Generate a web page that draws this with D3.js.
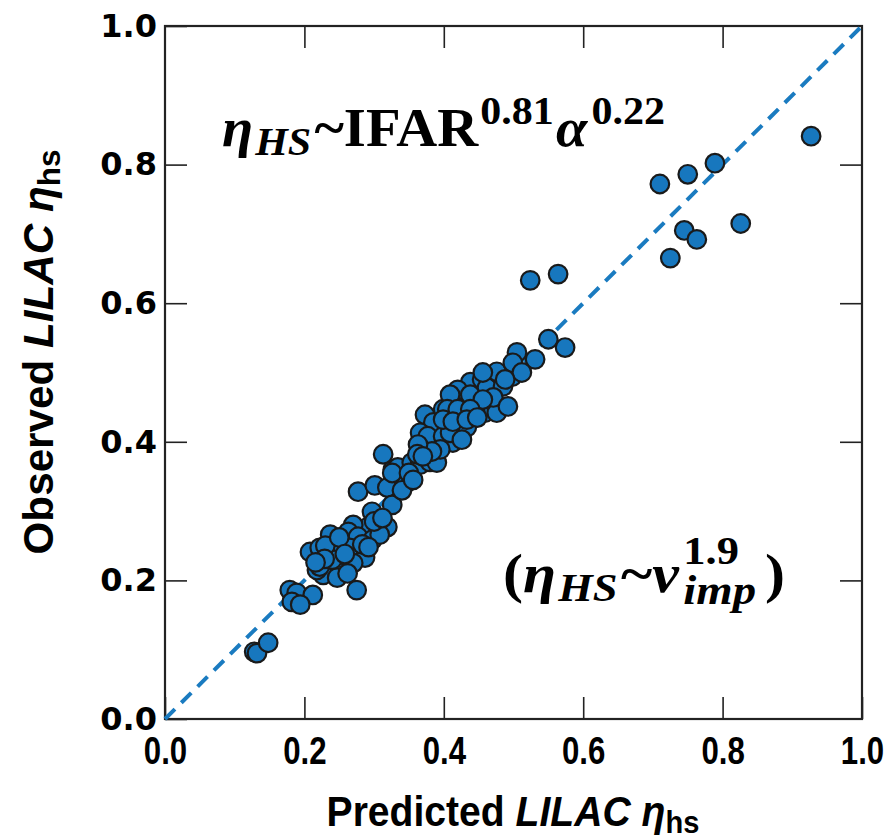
<!DOCTYPE html>
<html>
<head>
<meta charset="utf-8">
<script src="https://cdn.jsdelivr.net/npm/d3@7"></script>
<style>
  html, body { margin: 0; padding: 0; background: #fff; }
</style>
</head>
<body>
<svg id="chart" width="892" height="839"></svg>
<script>
// predicted vs observed LILAC eta_hs
const predicted = [
  0.927, 0.710, 0.750, 0.789, 0.826, 0.745, 0.763, 0.725, 0.524, 0.564,
  0.574, 0.550, 0.531, 0.505, 0.128, 0.132, 0.148, 0.275, 0.179, 0.189,
  0.212, 0.182, 0.194, 0.277, 0.301, 0.319, 0.327, 0.326, 0.297, 0.291,
  0.270, 0.263, 0.277, 0.298, 0.319, 0.308, 0.237, 0.208, 0.222, 0.237,
  0.251, 0.265, 0.277, 0.287, 0.255, 0.244, 0.227, 0.218, 0.247, 0.222,
  0.270, 0.240, 0.313, 0.334, 0.347, 0.326, 0.354, 0.366, 0.380, 0.390,
  0.373, 0.385, 0.366, 0.377, 0.399, 0.409, 0.399, 0.413, 0.395, 0.383,
  0.363, 0.362, 0.370, 0.420, 0.433, 0.419, 0.428, 0.438, 0.442, 0.455,
  0.462, 0.466, 0.459, 0.445, 0.435, 0.476, 0.476, 0.485, 0.471, 0.492,
  0.498, 0.499, 0.512, 0.409, 0.426, 0.456, 0.488, 0.420, 0.438, 0.409,
  0.456, 0.405, 0.420, 0.438, 0.399, 0.413, 0.433, 0.448, 0.340, 0.350,
  0.356, 0.230, 0.250, 0.258, 0.283, 0.292, 0.300, 0.312, 0.229, 0.216,
  0.262
];
const observed = [
  0.841, 0.772, 0.786, 0.802, 0.715, 0.705, 0.692, 0.665, 0.633, 0.642,
  0.536, 0.548, 0.519, 0.529, 0.097, 0.095, 0.110, 0.186, 0.186, 0.182,
  0.179, 0.169, 0.165, 0.328, 0.337, 0.334, 0.360, 0.309, 0.299, 0.277,
  0.280, 0.270, 0.263, 0.259, 0.277, 0.266, 0.266, 0.241, 0.247, 0.237,
  0.244, 0.247, 0.234, 0.233, 0.220, 0.215, 0.208, 0.215, 0.204, 0.220,
  0.225, 0.230, 0.382, 0.363, 0.341, 0.355, 0.370, 0.367, 0.371, 0.370,
  0.439, 0.428, 0.413, 0.408, 0.447, 0.429, 0.408, 0.399, 0.389, 0.386,
  0.396, 0.382, 0.379, 0.418, 0.421, 0.473, 0.461, 0.486, 0.465, 0.490,
  0.478, 0.458, 0.442, 0.444, 0.451, 0.442, 0.501, 0.480, 0.464, 0.451,
  0.494, 0.514, 0.500, 0.413, 0.403, 0.500, 0.490, 0.475, 0.468, 0.468,
  0.461, 0.447, 0.447, 0.447, 0.432, 0.429, 0.432, 0.435, 0.330, 0.355,
  0.345, 0.250, 0.262, 0.238, 0.252, 0.248, 0.285, 0.290, 0.231, 0.226,
  0.210
];
const tickValues = [0, 0.2, 0.4, 0.6, 0.8, 1.0];
const identityLine = [0, 1];

const points = predicted.map((p, i) => ({ p, o: observed[i] }));

const m = { left: 165, right: 862, top: 26, bottom: 719 };
const svg = d3.select('#chart');

const xScale = d3.scaleLinear().domain([0, 1]).range([m.left, m.right]);
const yScale = d3.scaleLinear().domain([0, 1]).range([m.bottom, m.top]);

const fmt = d3.format('.1f');
const inner = [0.2, 0.4, 0.6, 0.8];

// ticks on all four sides, pointing inward
const styleTicks = g => {
  g.select('.domain').remove();
  g.selectAll('.tick line').attr('stroke', '#222').attr('stroke-width', 1.6);
};

svg.append('g')
  .attr('transform', `translate(0,${m.bottom})`)
  .call(d3.axisBottom(xScale).tickValues(tickValues).tickFormat(fmt)
    .tickSizeInner(-22).tickSizeOuter(0).tickPadding(17))
  .call(styleTicks)
  .call(g => g.selectAll('.tick text')
    .attr('fill', '#000')
    .attr('transform', 'scale(0.8,1)')
    .style('font-family', '"Liberation Sans", Arial, sans-serif')
    .style('font-weight', 'bold')
    .style('font-size', '39px'));

svg.append('g')
  .attr('transform', `translate(${m.left},0)`)
  .call(d3.axisLeft(yScale).tickValues(tickValues).tickFormat(fmt)
    .tickSizeInner(-22).tickSizeOuter(0).tickPadding(8))
  .call(styleTicks)
  .call(g => g.selectAll('.tick text')
    .attr('fill', '#000')
    .style('font-family', '"DejaVu Sans", sans-serif')
    .style('font-weight', 'bold')
    .style('font-size', '32px'));

svg.append('g')
  .attr('transform', `translate(0,${m.top})`)
  .call(d3.axisTop(xScale).tickValues(inner).tickFormat('')
    .tickSizeInner(-22).tickSizeOuter(0))
  .call(styleTicks);

svg.append('g')
  .attr('transform', `translate(${m.right},0)`)
  .call(d3.axisRight(yScale).tickValues(inner).tickFormat('')
    .tickSizeInner(-22).tickSizeOuter(0))
  .call(styleTicks);

// frame
svg.append('rect')
  .attr('x', m.left).attr('y', m.top)
  .attr('width', m.right - m.left).attr('height', m.bottom - m.top)
  .attr('fill', 'none')
  .attr('stroke', '#222')
  .attr('stroke-width', 2.2);

// 1:1 line
svg.append('line')
  .attr('x1', xScale(identityLine[0])).attr('y1', yScale(identityLine[0]))
  .attr('x2', xScale(identityLine[1])).attr('y2', yScale(identityLine[1]))
  .attr('stroke', '#1a7bc0')
  .attr('stroke-width', 4)
  .attr('stroke-dasharray', '14,9');

svg.append('g')
  .selectAll('circle')
  .data(points)
  .enter()
  .append('circle')
  .attr('cx', d => xScale(d.p))
  .attr('cy', d => yScale(d.o))
  .attr('r', 9.3)
  .attr('fill', '#1777be')
  .attr('stroke', '#1a1a1a')
  .attr('stroke-width', 2.2);

// annotations, stretched to the reference width
const serif = '"Liberation Serif", "DejaVu Serif", serif';

const fitWidth = (t, x, y, target) => {
  const w = t.node().getBBox().width;
  t.attr('transform', `translate(${x},${y}) scale(${target / w},1)`);
};

const ann1 = svg.append('text')
  .style('font-family', serif)
  .style('font-weight', 'bold')
  .style('font-size', '54px')
  .attr('fill', '#000');
ann1.append('tspan').style('font-style', 'italic').text('η');
ann1.append('tspan').style('font-style', 'italic').style('font-size', '40px').attr('dx', 2).attr('dy', 9).text('HS');
ann1.append('tspan').attr('dx', 3).attr('dy', -9).text('~IFAR');
ann1.append('tspan').style('font-size', '40px').attr('dx', 2).attr('dy', -22).text('0.81');
ann1.append('tspan').style('font-style', 'italic').attr('dx', 2).attr('dy', 22).text('α');
ann1.append('tspan').style('font-size', '40px').attr('dx', 4).attr('dy', -22).text('0.22');
fitWidth(ann1, 222, 146, 443);

const ann2 = svg.append('text')
  .style('font-family', serif)
  .style('font-weight', 'bold')
  .style('font-size', '54px')
  .attr('fill', '#000');
ann2.append('tspan').text('(');
ann2.append('tspan').style('font-style', 'italic').text('η');
ann2.append('tspan').style('font-style', 'italic').style('font-size', '40px').attr('dx', 2).attr('dy', 9).text('HS');
ann2.append('tspan').attr('dx', 3).attr('dy', -9).text('~');
ann2.append('tspan').style('font-style', 'italic').text('v');
const sup = ann2.append('tspan').style('font-size', '40px').attr('dx', 4).attr('dy', -28).text('1.9');
const supW = sup.node().getComputedTextLength();
ann2.append('tspan').style('font-style', 'italic').style('font-size', '42px')
  .attr('dx', -supW).attr('dy', 40).text('imp');
ann2.append('tspan').attr('dx', 8).attr('dy', -12).text(')');
fitWidth(ann2, 503, 592, 282);

// axis titles, condensed to the reference width
const sans = '"Liberation Sans", Arial, sans-serif';

const title = (x, y, rot, target, label) => {
  const t = svg.append('text')
    .attr('text-anchor', 'middle')
    .style('font-family', sans)
    .style('font-weight', 'bold')
    .style('font-size', '43px')
    .attr('fill', '#000');
  t.append('tspan').text(label + ' ');
  t.append('tspan').style('font-style', 'italic').text('LILAC η');
  t.append('tspan').style('font-size', '32px').attr('dy', 7).text('hs');
  const w = t.node().getBBox().width;
  t.attr('transform', `translate(${x},${y}) rotate(${rot}) scale(${target / w},1)`);
};
title(513, 826, 0, 373, 'Predicted');
title(53, 352, -90, 405, 'Observed');
</script>
</body>
</html>
